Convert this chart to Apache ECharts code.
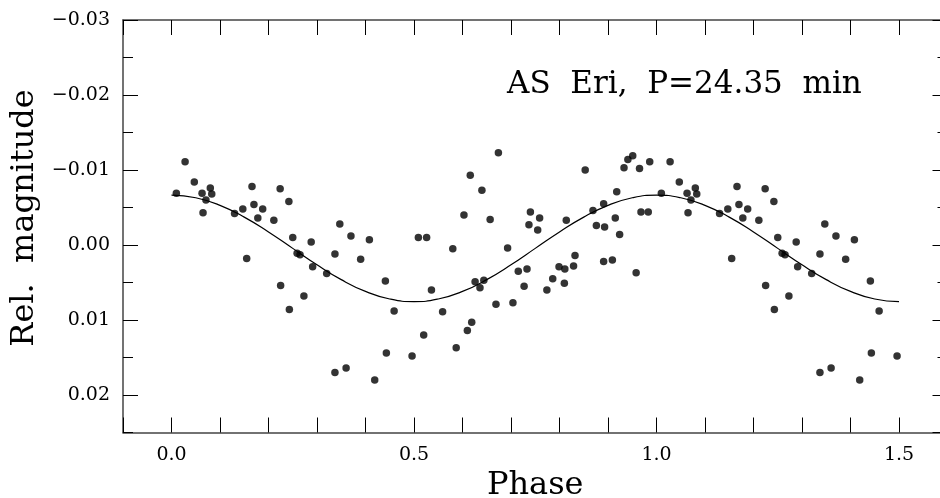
<!DOCTYPE html>
<html>
<head>
<meta charset="utf-8">
<script src="https://cdn.jsdelivr.net/npm/echarts@6.0.0/dist/echarts.min.js"></script>
<style>
  html, body { margin: 0; padding: 0; background: #fff; }
  #chart { width: 940px; height: 498px; }
</style>
</head>
<body>
<div id="chart"></div>
<script>
// observed phases (0..1) and relative magnitudes
const phases = [
  0.010, 0.028, 0.047, 0.063, 0.065, 0.071, 0.080, 0.083, 0.130, 0.147,
  0.155, 0.166, 0.170, 0.178, 0.188, 0.211, 0.224, 0.225, 0.242, 0.243,
  0.250, 0.259, 0.265, 0.273, 0.288, 0.291,
  0.320, 0.337, 0.337, 0.347, 0.360, 0.370, 0.390, 0.408, 0.419, 0.441,
  0.443, 0.459, 0.496, 0.509, 0.520, 0.526, 0.536, 0.559, 0.580, 0.587,
  0.603, 0.610, 0.616, 0.619, 0.626, 0.636, 0.640, 0.644, 0.657, 0.669,
  0.674,
  0.693, 0.704, 0.715, 0.727, 0.733, 0.737, 0.740, 0.755, 0.759, 0.774,
  0.786, 0.799, 0.810, 0.811, 0.814, 0.829, 0.832, 0.853, 0.869, 0.876,
  0.891, 0.891, 0.893, 0.909, 0.915, 0.918, 0.924, 0.933, 0.941, 0.951,
  0.958, 0.965, 0.968, 0.983, 0.986
];
const mags = [
  -0.0069, -0.0111, -0.0084, -0.0069, -0.0043, -0.0060, -0.0076, -0.0068, -0.0042, -0.0048,
  0.0018, -0.0078, -0.0054, -0.0036, -0.0048, -0.0033, -0.0075, 0.0054, -0.0058, 0.0086,
  -0.0010, 0.0011, 0.0013, 0.0068, -0.0004, 0.0029,
  0.0038, 0.0012, 0.0170, -0.0028, 0.0164, -0.0012, 0.0019, -0.0007, 0.0180, 0.0048,
  0.0144, 0.0088, 0.0148, -0.0010, 0.0120, -0.0010, 0.0060, 0.0089, 0.0005, 0.0137,
  -0.0040, 0.0114, -0.0093, 0.0103, 0.0049, 0.0057, -0.0073, 0.0047, -0.0034, 0.0079,
  -0.0123,
  0.0004, 0.0077, 0.0035, 0.0055, 0.0032, -0.0027, -0.0044, -0.0020, -0.0036, 0.0060,
  0.0045, 0.0029, 0.0051, 0.0032, -0.0033, 0.0028, 0.0014, -0.0100, -0.0046, -0.0026,
  0.0022, -0.0055, -0.0024, 0.0020, -0.0036, -0.0071, -0.0014, -0.0103, -0.0114, -0.0119,
  0.0037, -0.0102, -0.0044, -0.0044, -0.0111
];

// fitted curve
const curvePhase = [
  0.00, 0.05, 0.10, 0.15, 0.20, 0.25, 0.30, 0.35, 0.40, 0.45,
  0.50, 0.55, 0.60, 0.65, 0.70, 0.75, 0.80, 0.85, 0.90, 0.95,
  1.00, 1.05, 1.10, 1.15, 1.20, 1.25, 1.30, 1.35, 1.40, 1.45, 1.50
];
const curveMag = [
  -0.00665, -0.00630, -0.00529, -0.00372, -0.00174, 0.00045, 0.00264, 0.00462, 0.00619, 0.00720,
  0.00755, 0.00720, 0.00619, 0.00462, 0.00264, 0.00045, -0.00174, -0.00372, -0.00529, -0.00630,
  -0.00665, -0.00630, -0.00529, -0.00372, -0.00174, 0.00045, 0.00264, 0.00462, 0.00619, 0.00720, 0.00755
];

const xLabels = [0.0, 0.5, 1.0, 1.5];
const yLabels = [-0.03, -0.02, -0.01, 0.00, 0.01, 0.02];

// phase-folded: points before 0.5 are shown again one cycle later
const points = [];
phases.forEach((p, i) => {
  points.push([p, mags[i]]);
  if (p < 0.5) points.push([p + 1, mags[i]]);
});
const curve = curvePhase.map((p, i) => [p, curveMag[i]]);

const FONT = 'DejaVu Serif';
const near = (a, b) => Math.abs(a - b) < 1e-6;

const xAxisBase = {
  type: 'value',
  min: -0.1,
  max: 1.6,
  interval: 0.1,
  splitLine: { show: false },
  axisLine: { onZero: false, lineStyle: { color: '#444', width: 1.5 } },
  axisTick: { inside: true, length: 15, lineStyle: { color: '#000', width: 1 } }
};

const yAxisBase = {
  type: 'value',
  inverse: true,
  min: -0.03,
  max: 0.025,
  splitLine: { show: false }
};

const yMajor = (position) => ({
  ...yAxisBase,
  position,
  interval: 0.01,
  axisLine: { show: position === 'left', onZero: false, lineStyle: { color: '#444', width: 1.5 } },
  axisTick: { inside: true, length: 15, lineStyle: { color: '#000', width: 1 } },
  axisLabel: position === 'left' ? {
    margin: 13,
    fontFamily: FONT,
    fontSize: 19,
    color: '#000',
    showMaxLabel: false,
    formatter: (v) => {
      if (!yLabels.some(l => near(l, v))) return '';
      return (v < -1e-9 ? '\u2212' : '') + Math.abs(v).toFixed(2);
    }
  } : { show: false }
});

const yMinor = (position) => ({
  ...yAxisBase,
  position,
  interval: 0.005,
  axisLine: { show: false, onZero: false },
  axisTick: { inside: true, length: 10, lineStyle: { color: '#000', width: 1 } },
  axisLabel: { show: false }
});

const chart = echarts.init(document.getElementById('chart'));

chart.setOption({
  animation: false,
  backgroundColor: '#fff',
  grid: {
    left: 123,
    top: 20,
    width: 824.5,
    height: 412.5,
    outerBoundsMode: 'none'
  },
  xAxis: [
    {
      ...xAxisBase,
      position: 'bottom',
      axisLabel: {
        margin: 13,
        fontFamily: FONT,
        fontSize: 19,
        color: '#000',
        formatter: (v) => xLabels.some(l => near(l, v)) ? v.toFixed(1) : ''
      },
      name: 'Phase',
      nameLocation: 'middle',
      nameGap: 35,
      nameTextStyle: { fontFamily: FONT, fontSize: 32, color: '#000' }
    },
    {
      ...xAxisBase,
      position: 'top',
      axisLabel: { show: false }
    }
  ],
  yAxis: [yMajor('left'), yMinor('left'), yMajor('right'), yMinor('right')],
  graphic: [
    {
      type: 'text',
      left: 507,
      top: 69,
      style: {
        text: 'AS  Eri,  P=24.35  min',
        fontFamily: FONT,
        fontSize: 31,
        fill: '#000'
      }
    },
    {
      type: 'text',
      x: 25,
      y: 218,
      rotation: Math.PI / 2,
      style: {
        text: 'Rel.  magnitude',
        fontFamily: FONT,
        fontSize: 32,
        fill: '#000',
        align: 'center',
        verticalAlign: 'middle'
      }
    }
  ],
  series: [
    {
      type: 'line',
      data: curve,
      smooth: true,
      showSymbol: false,
      lineStyle: { color: '#000', width: 1.2 },
      silent: true
    },
    {
      type: 'scatter',
      data: points,
      symbol: 'circle',
      symbolSize: 7.5,
      itemStyle: { color: '#000' },
      silent: true
    }
  ]
});
</script>
</body>
</html>
